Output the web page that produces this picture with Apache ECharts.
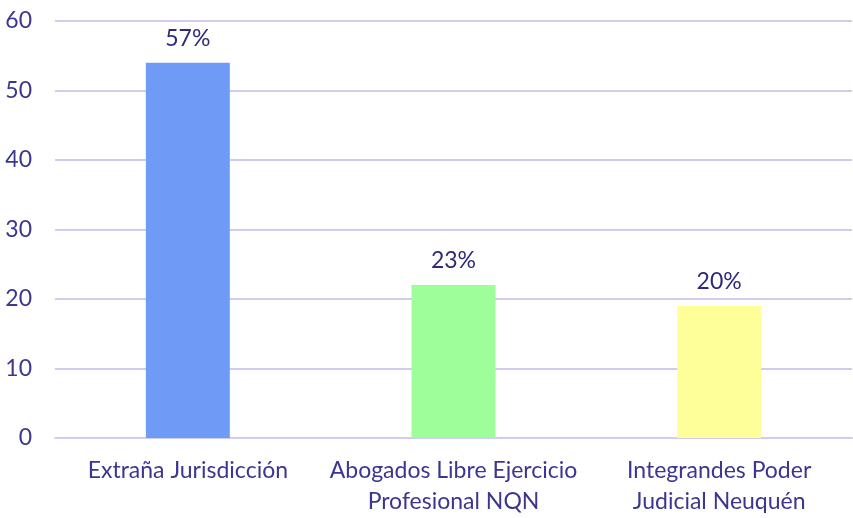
<!DOCTYPE html>
<html>
<head>
<meta charset="utf-8">
<script src="https://cdn.jsdelivr.net/npm/echarts@6/dist/echarts.min.js"></script>
<style>
  html, body { margin: 0; padding: 0; background: #fff; }
  #main { width: 853px; height: 518px; }
</style>
</head>
<body>
<div id="main"></div>
<script>
// chart data
const categories = ['Extraña Jurisdicción', 'Abogados Libre Ejercicio\nProfesional NQN', 'Integrandes Poder\nJudicial Neuquén'];
const values = [54, 22, 19];
const percentLabels = ['57%', '23%', '20%'];
const barColors = ['#6f9bf6', '#9cff99', '#ffff99'];

const textColor = '#3b3791';
const fontName = 'Lato';

let chart = echarts.init(document.getElementById('main'));

const option = {
	animation: false,
	grid: {
		left: 55,
		right: 1,
		top: 21,
		bottom: 80
	},
	xAxis: {
		type: 'category',
		data: categories,
		axisLine: { show: true, lineStyle: { color: '#d0ccf0', width: 2 } },
		axisTick: { show: false },
		axisLabel: {
			color: textColor,
			fontFamily: fontName,
			fontSize: 23,
			lineHeight: 31,
			margin: 17,
			interval: 0
		}
	},
	yAxis: {
		type: 'value',
		min: 0,
		max: 60,
		interval: 10,
		axisLine: { show: false },
		axisTick: { show: false },
		axisLabel: {
			color: textColor,
			fontFamily: fontName,
			fontSize: 23,
			margin: 23
		},
		splitLine: { lineStyle: { color: '#d0ccf0', width: 2 } }
	},
	series: [
		{
			type: 'bar',
			barWidth: '31.6%',
			data: values.map(function (v, i) {
				return { value: v, itemStyle: { color: barColors[i] } };
			}),
			label: {
				show: true,
				position: 'top',
				distance: 13,
				color: '#2e2a78',
				fontFamily: fontName,
				fontSize: 23,
				formatter: function (p) {
					return percentLabels[p.dataIndex];
				}
			}
		}
	]
};

chart.setOption(option);
</script>
</body>
</html>
